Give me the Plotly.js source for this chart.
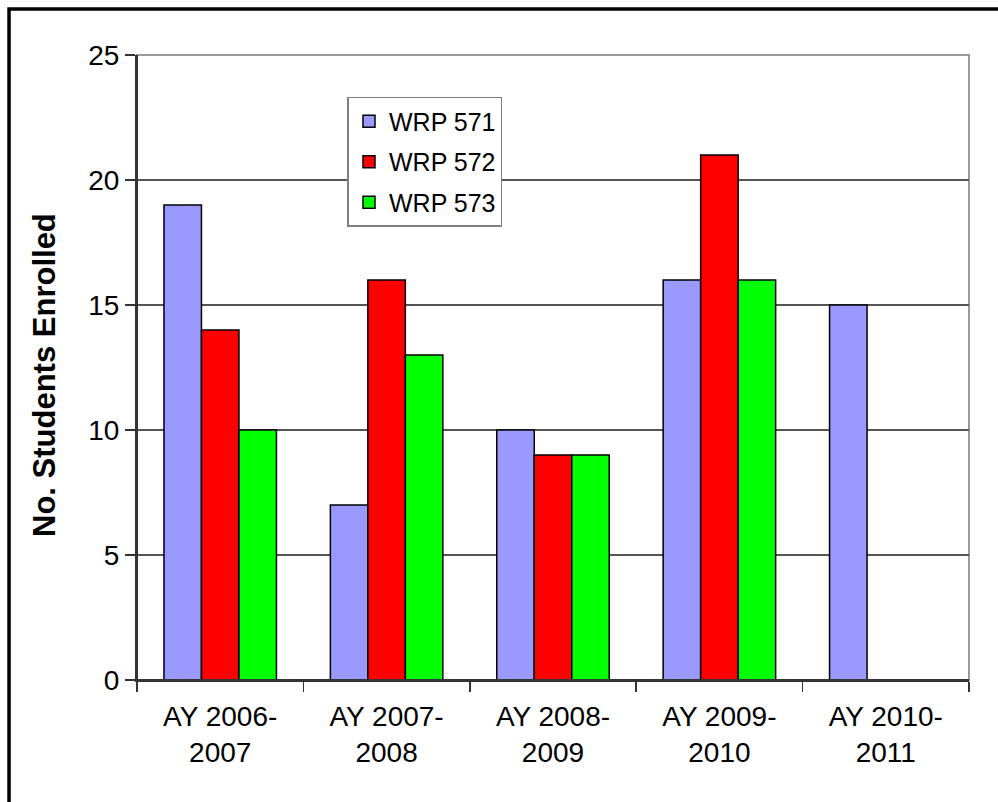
<!DOCTYPE html>
<html>
<head>
<meta charset="utf-8">
<script src="https://cdn.plot.ly/plotly-3.0.1.min.js"></script>
<style>
html,body{margin:0;padding:0;background:#fff;}
#chart{width:998px;height:802px;}
</style>
</head>
<body>
<div id="chart"></div>
<script>
var categories = ["AY 2006-<br>2007", "AY 2007-<br>2008", "AY 2008-<br>2009", "AY 2009-<br>2010", "AY 2010-<br>2011"];
var wrp571 = [19, 7, 10, 16, 15];
var wrp572 = [14, 16, 9, 21, null];
var wrp573 = [10, 13, 9, 16, null];
var yTicks = [0, 5, 10, 15, 20, 25];
var yTitle = "No. Students Enrolled";

var FONT = "Liberation Sans, Arial, sans-serif";

function bar(name, y, color) {
  return {
    type: "bar", name: name, x: categories, y: y,
    legendgroup: name,
    marker: {color: color, line: {color: "#000", width: 1.5}},
    hoverinfo: "y"
  };
}

var data = [
  bar("WRP 571", wrp571, "#9999FF"),
  bar("WRP 572", wrp572, "#FF0000"),
  bar("WRP 573", wrp573, "#00FF00")
];

var layout = {
  width: 998, height: 802,
  margin: {l: 137, r: 29, t: 55, b: 122},
  paper_bgcolor: "#fff", plot_bgcolor: "#fff",
  font: {family: FONT, color: "#000", size: 28},
  barmode: "group",
  bargap: 0.324,
  bargroupgap: 0,
  showlegend: true,
  legend: {
    x: 0.253, y: 0.933, xanchor: "left", yanchor: "top",
    bgcolor: "#fff", bordercolor: "#808080", borderwidth: 1.5,
    font: {family: FONT, size: 25, color: "#000"},
    traceorder: "grouped", tracegroupgap: 5
  },
  xaxis: {
    type: "category",
    showline: true, linecolor: "#333", linewidth: 2,
    ticks: "outside", tickson: "boundaries", ticklen: 10, tickcolor: "#333", tickwidth: 1.5,
    ticklabelstandoff: 10,
    showgrid: false, zeroline: false,
    tickfont: {family: FONT, size: 28, color: "#000"},
    fixedrange: true
  },
  yaxis: {
    range: [0, 25],
    tickvals: yTicks,
    ticktext: yTicks.map(String),
    showline: true, linecolor: "#333", linewidth: 2,
    ticks: "outside", ticklen: 10, tickcolor: "#333", tickwidth: 1.5,
    showgrid: true, gridcolor: "#555", gridwidth: 1.2,
    zeroline: false,
    tickfont: {family: FONT, size: 28, color: "#000"},
    fixedrange: true
  },
  annotations: [
    {text: "<b>" + yTitle + "</b>", xref: "paper", yref: "paper",
     x: -0.1118, y: 0.488, xanchor: "center", yanchor: "middle",
     textangle: -90, showarrow: false,
     font: {family: FONT, size: 31, color: "#000"}}
  ],
  shapes: [
    {type: "rect", xref: "paper", yref: "paper", x0: 0, x1: 1, y0: 0, y1: 1,
     line: {color: "#999", width: 2}, layer: "below"},
    {type: "line", xref: "paper", yref: "paper", x0: 0, x1: 1, y0: 0, y1: 0,
     line: {color: "#333", width: 2}},
    {type: "line", xref: "paper", yref: "paper", x0: 0, x1: 0, y0: 0, y1: 1,
     line: {color: "#333", width: 2}},
    {type: "rect", xref: "paper", yref: "paper", x0: -0.1538, x1: 1.2, y0: -0.3, y1: 1.0736,
     line: {color: "#000", width: 3.5}}
  ]
};

Plotly.newPlot("chart", data, layout, {displayModeBar: false, staticPlot: true});
</script>
</body>
</html>
